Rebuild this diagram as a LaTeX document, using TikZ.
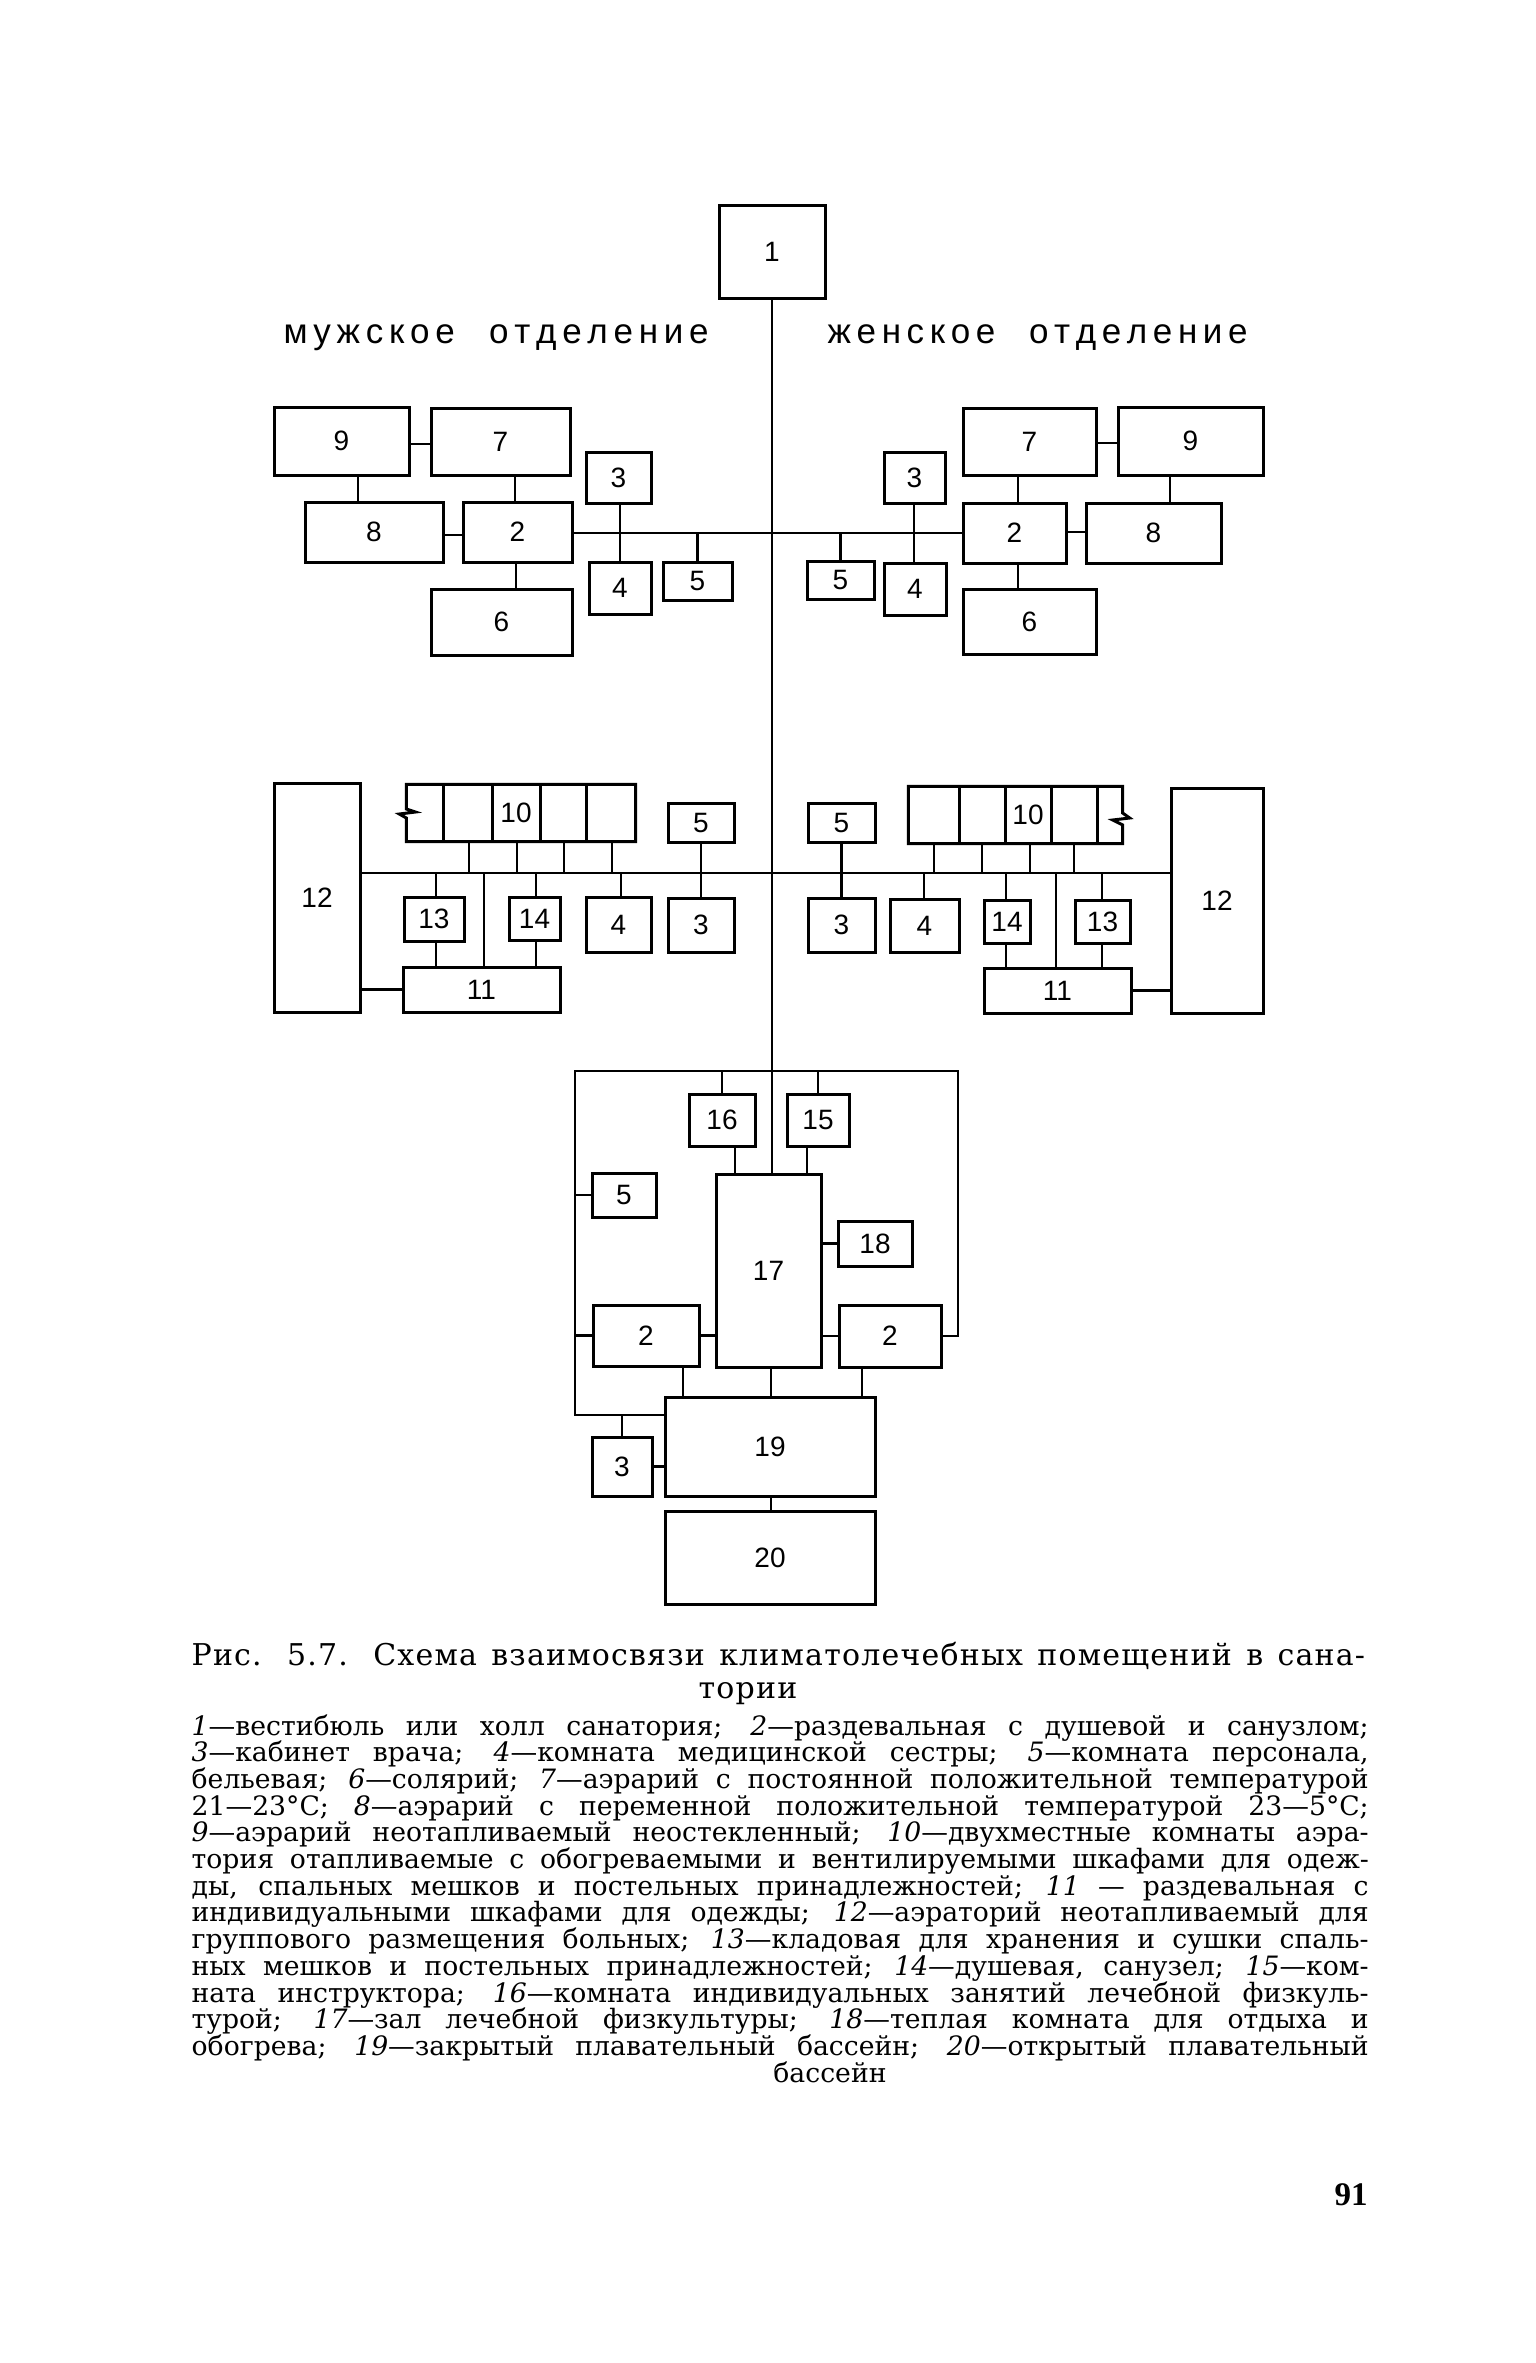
\documentclass[tikz,border=0pt]{standalone}
\usepackage{fontspec}
\setmainfont{DejaVu Serif}
\newfontfamily\digf{Liberation Sans}
\newfontfamily\serf{DejaVu Serif}
\newfontfamily\titf[LetterSpace=4]{DejaVu Serif}
\newfontfamily\numf{Liberation Serif}
\newcommand\bx[6]{\node[box,minimum width={(#4-#2)*0.3pt},minimum height={(#5-#3)*0.3pt}] (#1) at ({(#2+#4)/2},{(#3+#5)/2}) {#6};}
\newcommand\lgl[3]{\node[legtext] (#1) at (191,#2) {\makebox[353.1pt][s]{#3}};}
\newcommand\wg{\hskip 0pt plus 6fill\relax}
\tikzset{
  box/.style={draw,line width=0.9pt,inner sep=0pt,font=\digf\fontsize{8.4}{10}\selectfont},
  rowbox/.style={draw=none,inner sep=0pt},
  boxline/.style={line width=0.9pt,line join=miter},
  ln/.style={line width=0.75pt},
  lbl/.style={inner sep=0pt,font=\digf\fontsize{8.4}{10}\selectfont},
  sect/.style={inner sep=0pt,anchor=base west,font=\digf\fontsize{10.5}{12}\selectfont},
  legtext/.style={anchor=base west,inner sep=0pt,font=\serf\fontsize{8}{9}\selectfont},
  titletext/.style={anchor=base west,inner sep=0pt,font=\titf\fontsize{9}{10}\selectfont}
}
\begin{document}
\begin{tikzpicture}[x=0.3pt,y=-0.3pt]
\useasboundingbox (0,0) rectangle (1536,2363);
% ---------- top
\bx{b1}{719}{205}{825}{298}{1}
\node[sect] (mtxt) at (283,343) {\makebox[127.5pt]{м\hfill у\hfill ж\hfill с\hfill к\hfill о\hfill е\wg о\hfill т\hfill д\hfill е\hfill л\hfill е\hfill н\hfill и\hfill е}};
\node[sect] (wtxt) at (827,343) {\makebox[126pt]{ж\hfill е\hfill н\hfill с\hfill к\hfill о\hfill е\wg о\hfill т\hfill д\hfill е\hfill л\hfill е\hfill н\hfill и\hfill е}};
% upper left
\bx{b9L}{274}{407}{409}{475}{9}
\bx{b7L}{431}{408}{570}{475}{7}
\bx{b3La}{586}{452}{651}{503}{3}
\bx{b8L}{305}{502}{443}{562}{8}
\bx{b2La}{463}{502}{572}{562}{2}
\bx{b4La}{589}{562}{651}{614}{4}
\bx{b5La}{663}{562}{732}{600}{5}
\bx{b6L}{431}{589}{572}{655}{6}
% upper right
\bx{b7R}{963}{408}{1096}{475}{7}
\bx{b9R}{1118}{407}{1263}{475}{9}
\bx{b3Ra}{884}{452}{945}{503}{3}
\bx{b2Ra}{963}{503}{1066}{563}{2}
\bx{b8R}{1086}{503}{1221}{563}{8}
\bx{b4Ra}{884}{563}{946}{615}{4}
\bx{b5Ra}{807}{561}{874}{599}{5}
\bx{b6R}{963}{589}{1096}{654}{6}
% middle left
\bx{b12L}{274}{783}{360}{1012}{12}
\node[rowbox,minimum width={228*0.3pt},minimum height={56*0.3pt}] (b10L) at (521,813) {};
\bx{b13L}{404}{897}{464}{941}{13}
\bx{b14L}{509}{897}{560}{940}{14}
\bx{b4Lb}{586}{897}{651}{952}{4}
\bx{b5Lb}{668}{803}{734}{842}{5}
\bx{b3Lb}{668}{898}{734}{952}{3}
\bx{b11L}{403}{967}{560}{1012}{11}
% middle right
\bx{b5Rb}{808}{803}{875}{842}{5}
\bx{b3Rb}{808}{898}{875}{952}{3}
\bx{b4Rb}{890}{899}{959}{952}{4}
\node[rowbox,minimum width={213*0.3pt},minimum height={56*0.3pt}] (b10R) at (1015.5,815) {};
\bx{b14R}{984}{900}{1030}{943}{14}
\bx{b13R}{1075}{900}{1130}{943}{13}
\bx{b11R}{984}{968}{1131}{1013}{11}
\bx{b12R}{1171}{788}{1263}{1013}{12}
% bottom
\bx{b16}{689}{1094}{755}{1146}{16}
\bx{b15}{787}{1094}{849}{1146}{15}
\bx{b17}{716}{1174}{821}{1367}{17}
\bx{b5c}{592}{1173}{656}{1217}{5}
\bx{b18}{838}{1221}{912}{1266}{18}
\bx{b2Lb}{593}{1305}{699}{1366}{2}
\bx{b2Rb}{839}{1305}{941}{1367}{2}
\bx{b19}{665}{1397}{875}{1496}{19}
\bx{b3c}{592}{1437}{652}{1496}{3}
\bx{b20}{665}{1511}{875}{1604}{20}
% ---------- rows of 10
\draw[boxline] (b10L.west |- 0,818) -- (b10L.south west) -- (b10L.south east) -- (b10L.north east) -- (b10L.north west) -- (b10L.west |- 0,809) -- ++(9,3) -- ++(-16,2) -- cycle;
\foreach \x in {443,492,540,586} \draw[boxline] (b10L.north -| \x,0) -- (b10L.south -| \x,0);
\node[lbl] (l10L) at (516,813) {10};
\draw[boxline] (b10R.east |- 0,813) -- (b10R.north east) -- (b10R.north west) -- (b10R.south west) -- (b10R.south east) -- (b10R.east |- 0,825) -- ++(-10,-5) -- ++(17,-2) -- cycle;
\foreach \x in {959,1005,1051,1097} \draw[boxline] (b10R.north -| \x,0) -- (b10R.south -| \x,0);
\node[lbl] (l10R) at (1028,815) {10};
% ---------- connectors top
\coordinate (busA) at (772,533);
\coordinate (busB) at (772,873);
\draw[ln] (b1.south -| 772,0) -- (b17.north -| 772,0);
\draw[ln] (b2La.east |- busA) -- (b2Ra.west |- busA);
\draw[ln] (b9L.east |- 0,444) -- (b7L.west |- 0,444);
\draw[ln] (b9L.south -| 358,0) -- (b8L.north -| 358,0);
\draw[ln] (b7L.south -| 515,0) -- (b2La.north -| 515,0);
\draw[ln] (b8L.east |- 0,535) -- (b2La.west |- 0,535);
\draw[ln] (b2La.south -| 516,0) -- (b6L.north -| 516,0);
\draw[ln] (b3La.south -| 620,0) -- (b4La.north -| 620,0);
\draw[ln] (b5La.north) -- (b5La.north |- busA);
\draw[ln] (b7R.east |- 0,443) -- (b9R.west |- 0,443);
\draw[ln] (b9R.south -| 1170,0) -- (b8R.north -| 1170,0);
\draw[ln] (b7R.south -| 1018,0) -- (b2Ra.north -| 1018,0);
\draw[ln] (b2Ra.east |- 0,532) -- (b8R.west |- 0,532);
\draw[ln] (b2Ra.south -| 1018,0) -- (b6R.north -| 1018,0);
\draw[ln] (b3Ra.south -| 914,0) -- (b4Ra.north -| 914,0);
\draw[ln] (b5Ra.north) -- (b5Ra.north |- busA);
% ---------- connectors middle
\draw[ln] (b12L.east |- busB) -- (b12R.west |- busB);
\foreach \x in {469,517,564,612} \draw[ln] (b10L.south -| \x,0) -- (busB -| \x,0);
\foreach \x in {934,982,1030,1074} \draw[ln] (b10R.south -| \x,0) -- (busB -| \x,0);
\draw[ln] (busB -| 436,0) -- (b13L.north -| 436,0);
\draw[ln] (b13L.south -| 436,0) -- (b11L.north -| 436,0);
\draw[ln] (busB -| 484,0) -- (b11L.north -| 484,0);
\draw[ln] (busB -| 536,0) -- (b14L.north -| 536,0);
\draw[ln] (b14L.south -| 536,0) -- (b11L.north -| 536,0);
\draw[ln] (busB -| 621,0) -- (b4Lb.north -| 621,0);
\draw[ln] (b5Lb.south) -- (b3Lb.north);
\draw[ln] (b11L.west) -- (b11L.west -| b12L.east);
\draw[ln] (b5Rb.south) -- (b3Rb.north);
\draw[ln] (busB -| 924,0) -- (b4Rb.north -| 924,0);
\draw[ln] (busB -| 1006,0) -- (b14R.north -| 1006,0);
\draw[ln] (b14R.south -| 1006,0) -- (b11R.north -| 1006,0);
\draw[ln] (busB -| 1056,0) -- (b11R.north -| 1056,0);
\draw[ln] (busB -| 1102,0) -- (b13R.north -| 1102,0);
\draw[ln] (b13R.south -| 1102,0) -- (b11R.north -| 1102,0);
\draw[ln] (b11R.east) -- (b11R.east -| b12R.west);
% ---------- connectors bottom
\coordinate (LT) at (575,1071);
\coordinate (RT) at (958,1071);
\coordinate (LB) at (575,1415);
\coordinate (RB) at (958,1336);
\draw[ln] (b19.west |- LB) -- (LB) -- (LT) -- (RT) -- (RB) -- (b2Rb.east |- RB);
\draw[ln] (LT -| 722,0) -- (b16.north -| 722,0);
\draw[ln] (b16.south -| 735,0) -- (b17.north -| 735,0);
\draw[ln] (LT -| 818,0) -- (b15.north -| 818,0);
\draw[ln] (b15.south -| 807,0) -- (b17.north -| 807,0);
\draw[ln] (LT |- b5c.west) -- (b5c.west);
\draw[ln] (LT |- b2Lb.west) -- (b2Lb.west);
\draw[ln] (b2Lb.east) -- (b2Lb.east -| b17.west);
\draw[ln] (b18.west -| b17.east) -- (b18.west);
\draw[ln] (b2Rb.west -| b17.east) -- (b2Rb.west);
\draw[ln] (b2Lb.south -| 683,0) -- (b19.north -| 683,0);
\draw[ln] (b17.south -| 771,0) -- (b19.north -| 771,0);
\draw[ln] (b2Rb.south -| 862,0) -- (b19.north -| 862,0);
\draw[ln] (LB -| b3c.north) -- (b3c.north);
\draw[ln] (b3c.east) -- (b3c.east -| b19.west);
\draw[ln] (b19.south -| 771,0) -- (b20.north -| 771,0);
% ---------- caption
\node[titletext] (cap1) at (191,1665) {\makebox[352pt][s]{Рис. 5.7. Схема взаимосвязи климатолечебных помещений в сана-}};
\node[titletext,anchor=base] (cap2) at (748,1698) {тории};
\lgl{t1}{1735}{\textit{1}—вестибюль или холл санатория; \textit{2}—раздевальная с душевой и санузлом;}
\lgl{t2}{1761.7}{\textit{3}—кабинет врача; \textit{4}—комната медицинской сестры; \textit{5}—комната персонала,}
\lgl{t3}{1788.4}{бельевая; \textit{6}—солярий; \textit{7}—аэрарий с постоянной положительной температурой}
\lgl{t4}{1815.1}{21—23°C; \textit{8}—аэрарий с переменной положительной температурой 23—5°C;}
\lgl{t5}{1841.8}{\textit{9}—аэрарий неотапливаемый неостекленный; \textit{10}—двухместные комнаты аэра-}
\lgl{t6}{1868.5}{тория отапливаемые с обогреваемыми и вентилируемыми шкафами для одеж-}
\lgl{t7}{1895.2}{ды, спальных мешков и постельных принадлежностей; \textit{11} — раздевальная с}
\lgl{t8}{1921.9}{индивидуальными шкафами для одежды; \textit{12}—аэраторий неотапливаемый для}
\lgl{t9}{1948.6}{группового размещения больных; \textit{13}—кладовая для хранения и сушки спаль-}
\lgl{t10}{1975.3}{ных мешков и постельных принадлежностей; \textit{14}—душевая, санузел; \textit{15}—ком-}
\lgl{t11}{2002}{ната инструктора; \textit{16}—комната индивидуальных занятий лечебной физкуль-}
\lgl{t12}{2028.7}{турой; \textit{17}—зал лечебной физкультуры; \textit{18}—теплая комната для отдыха и}
\lgl{t13}{2055.4}{обогрева; \textit{19}—закрытый плавательный бассейн; \textit{20}—открытый плавательный}
\node[legtext,anchor=base] (t14) at (830,2082) {бассейн};
\node[anchor=base,inner sep=0pt,font=\numf\bfseries\fontsize{9.9}{12}\selectfont] (pg) at (1351,2205) {91};
\end{tikzpicture}
\end{document}
